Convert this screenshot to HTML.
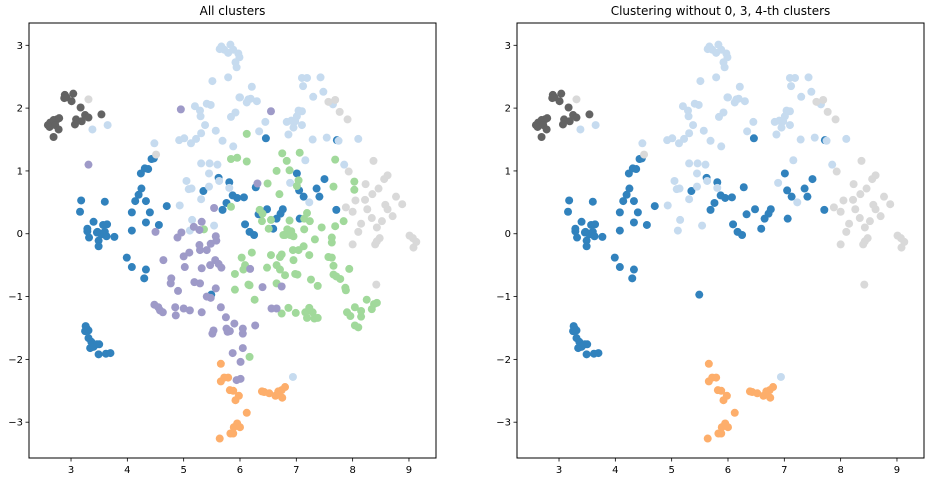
<!DOCTYPE html>
<html><head><meta charset="utf-8"><style>
html,body{margin:0;padding:0;background:#fff;}
svg{display:block;font-family:"DejaVu Sans","Liberation Sans",sans-serif;}
</style></head><body>
<svg id="chart" width="928" height="482" viewBox="0 0 928 482" xmlns="http://www.w3.org/2000/svg"></svg>
<script>
const darkBlue=[[3.18,0.53],[3.16,0.35],[3.60,0.51],[3.40,0.19],[3.29,0.08],[3.32,-0.06],[3.47,0.03],[3.57,0.14],[3.64,0.15],[3.60,0.03],[3.54,-0.01],[3.77,-0.05],[4.08,0.34],[4.08,0.05],[4.14,0.52],[4.20,0.62],[4.25,0.72],[4.24,0.96],[4.31,1.04],[4.37,1.03],[4.43,1.19],[4.47,1.20],[4.33,0.52],[4.40,0.34],[4.33,0.18],[4.56,0.14],[4.70,0.44],[5.35,0.68],[5.62,0.89],[5.81,0.82],[5.87,0.61],[5.95,0.57],[6.07,0.58],[5.76,0.49],[5.69,0.38],[6.09,0.15],[6.17,0.03],[6.46,1.52],[7.72,1.49],[7.01,0.96],[7.50,0.87],[6.28,0.74],[7.05,0.69],[7.36,0.72],[7.13,0.59],[7.41,0.59],[7.71,0.38],[6.48,0.39],[6.76,0.39],[6.72,0.32],[6.65,0.24],[6.33,0.31],[7.06,0.24],[6.59,0.08],[6.25,-0.02],[3.29,0.04],[3.46,0.02],[3.59,0.02],[3.63,-0.04],[3.49,-0.11],[3.49,-0.20],[3.99,-0.38],[4.08,-0.53],[4.33,-0.57],[4.30,-0.71],[5.49,-0.97],[3.26,-1.47],[3.31,-1.54],[3.25,-1.55],[3.28,-1.51],[3.31,-1.66],[3.36,-1.72],[3.46,-1.76],[3.34,-1.82],[3.40,-1.80],[3.50,-1.76],[3.49,-1.92],[3.62,-1.91],[3.70,-1.90]];
const lightBlue=[[3.38,1.66],[3.65,1.73],[4.48,1.44],[5.67,2.98],[5.64,2.94],[5.72,2.93],[5.83,3.01],[5.88,2.93],[5.79,2.88],[5.97,2.87],[5.99,2.81],[5.92,2.73],[5.94,2.65],[5.79,2.49],[5.51,2.43],[5.99,2.17],[6.15,2.14],[6.12,2.09],[5.41,2.07],[5.48,2.05],[5.20,2.03],[5.29,1.96],[5.30,1.87],[5.92,1.93],[5.84,1.86],[5.38,1.73],[5.57,1.64],[5.31,1.60],[5.69,1.48],[5.88,1.39],[4.92,1.49],[5.01,1.52],[5.13,1.44],[5.22,1.51],[5.31,1.12],[5.46,1.12],[5.60,1.10],[5.45,0.96],[5.05,0.84],[5.09,0.71],[5.14,0.72],[5.31,0.55],[5.45,0.75],[5.63,0.84],[4.93,0.45],[5.81,0.73],[5.15,0.22],[5.54,0.13],[5.11,0.05],[6.21,2.34],[7.10,2.48],[7.19,2.48],[7.43,2.49],[7.12,2.35],[7.48,2.26],[7.30,2.18],[6.00,2.17],[6.19,2.15],[6.30,2.11],[7.65,2.06],[7.04,1.96],[7.10,1.95],[7.01,1.87],[6.91,1.80],[6.83,1.78],[6.98,1.79],[6.45,1.78],[6.95,1.69],[7.10,1.73],[6.34,1.63],[6.86,1.58],[7.29,1.50],[7.54,1.53],[7.75,1.48],[8.10,1.51],[7.16,1.17],[7.85,1.10],[6.89,0.81],[7.23,0.50],[6.94,-2.28]];
const green=[[6.12,1.59],[5.84,1.19],[5.95,1.21],[6.12,1.15],[5.84,0.43],[5.36,0.07],[6.75,1.28],[7.06,1.29],[6.83,1.16],[7.69,1.18],[6.65,1.00],[6.88,1.01],[6.49,0.80],[7.04,0.85],[7.01,0.76],[7.66,0.75],[8.03,0.83],[8.03,0.70],[6.70,0.63],[6.35,0.38],[6.40,0.32],[7.19,0.33],[6.39,0.20],[6.55,0.22],[6.88,0.21],[7.14,0.24],[7.24,0.20],[7.69,0.12],[7.84,0.20],[7.45,0.10],[6.51,0.08],[6.84,0.07],[6.91,0.04],[7.14,0.07],[6.77,-0.02],[6.95,-0.04],[7.33,-0.09],[7.63,-0.06],[6.03,-0.38],[6.09,-0.50],[6.06,-0.57],[5.91,-0.64],[6.15,-0.81],[5.91,-0.89],[6.17,-1.96],[6.80,-0.02],[6.89,-0.02],[7.63,-0.14],[6.21,-0.30],[6.55,-0.34],[6.74,-0.33],[6.71,-0.37],[6.94,-0.26],[7.04,-0.26],[7.13,-0.20],[7.23,-0.34],[7.57,-0.37],[7.63,-0.38],[6.95,-0.42],[6.48,-0.54],[6.65,-0.50],[6.71,-0.57],[7.66,-0.51],[7.94,-0.56],[6.80,-0.66],[6.98,-0.64],[7.02,-0.65],[7.66,-0.65],[7.71,-0.68],[7.78,-0.72],[7.26,-0.73],[6.17,-0.82],[6.65,-0.79],[7.38,-0.83],[7.87,-0.86],[7.88,-0.90],[6.26,-1.05],[6.86,-1.18],[6.74,-1.27],[6.99,-1.26],[7.16,-1.25],[7.23,-1.18],[7.29,-1.25],[7.19,-1.34],[7.32,-1.35],[7.38,-1.34],[7.90,-1.25],[7.96,-1.31],[8.04,-1.17],[8.15,-1.23],[8.15,-1.32],[8.04,-1.46],[8.10,-1.49],[8.25,-1.05],[8.38,-1.12],[8.43,-1.10],[8.34,-1.20]];
const purple=[[3.31,1.10],[4.95,1.98],[6.55,1.95],[6.31,0.80],[5.54,0.41],[5.32,0.19],[5.18,0.11],[5.28,0.06],[4.96,0.02],[4.50,0.03],[4.89,-0.06],[5.57,-0.04],[5.58,-0.11],[5.28,-0.18],[5.29,-0.26],[5.48,-0.16],[5.41,-0.26],[5.10,-0.30],[5.00,-0.36],[4.64,-0.42],[5.02,-0.53],[5.32,-0.55],[5.47,-0.50],[5.56,-0.42],[5.62,-0.48],[5.67,-0.54],[4.78,-0.71],[4.77,-0.79],[5.19,-0.77],[5.29,-0.79],[5.57,-0.87],[4.90,-0.91],[5.41,-1.00],[5.48,-1.02],[4.48,-1.13],[4.55,-1.17],[4.58,-1.22],[4.63,-1.25],[4.85,-1.17],[5.00,-1.19],[5.11,-1.22],[4.86,-1.30],[5.32,-1.25],[5.66,-1.17],[5.75,-1.33],[5.53,-1.54],[5.51,-1.59],[5.76,-1.51],[5.78,-1.56],[5.90,-1.43],[6.05,-1.51],[6.05,-1.59],[6.05,-1.82],[5.87,-1.90],[6.01,-2.04],[5.94,-2.33],[6.01,-2.31],[6.18,-0.56],[6.40,-0.85],[6.74,-0.84],[6.56,-1.19],[6.65,-1.19],[6.27,-1.46],[5.82,-1.55]];
const orange=[[5.66,-2.07],[5.66,-2.35],[5.72,-2.29],[5.79,-2.29],[5.82,-2.49],[5.88,-2.50],[5.98,-2.58],[5.92,-2.65],[6.12,-2.85],[5.95,-3.02],[5.89,-3.08],[5.83,-3.18],[5.88,-3.18],[5.64,-3.26],[6.39,-2.51],[6.43,-2.52],[6.52,-2.54],[6.63,-2.58],[6.68,-2.51],[6.74,-2.49],[6.80,-2.44],[6.75,-2.61],[6.00,-3.08]];
const darkGray=[[2.59,1.73],[2.63,1.77],[2.69,1.81],[2.75,1.82],[2.79,1.84],[2.62,1.70],[2.72,1.73],[2.78,1.66],[2.69,1.54],[2.89,2.21],[2.92,2.17],[3.04,2.23],[3.01,2.11],[3.17,2.01],[3.09,1.82],[3.07,1.74],[3.19,1.79],[3.25,1.89],[3.31,1.85],[3.54,1.90],[2.88,2.16]];
const lightGray=[[3.31,2.14],[4.51,1.26],[7.57,2.10],[7.69,2.13],[7.77,1.94],[7.91,1.82],[8.37,1.16],[7.93,0.99],[8.62,0.93],[8.56,0.87],[8.23,0.79],[8.46,0.72],[8.35,0.63],[8.77,0.59],[8.05,0.53],[8.22,0.54],[8.88,0.47],[8.58,0.46],[8.62,0.39],[7.88,0.42],[8.00,0.35],[8.26,0.39],[8.71,0.28],[8.34,0.25],[8.52,0.20],[8.15,0.16],[8.43,0.10],[8.10,0.03],[9.01,-0.03],[9.07,-0.07],[8.00,-0.17],[8.40,-0.17],[8.43,-0.12],[8.48,-0.07],[9.13,-0.13],[9.08,-0.22],[8.42,-0.81]];
const xTicks=[3,4,5,6,7,8,9];
const yTicks=[3,2,1,0,-1,-2,-3];
const titles=["All clusters","Clustering without 0, 3, 4-th clusters"];

const NS="http://www.w3.org/2000/svg";
const svg=document.getElementById('chart');
function mk(tag,attrs,parent){const e=document.createElementNS(NS,tag);for(const k in attrs)e.setAttribute(k,attrs[k]);(parent||svg).appendChild(e);return e;}
const X0=2.254,X1=9.48,Y0=-3.57,Y1=3.355;
const series=[
 {name:'dark-blue',pts:darkBlue,c:'#3182bd',both:true},
 {name:'light-blue',pts:lightBlue,c:'#c6dbef',both:true},
 {name:'green',pts:green,c:'#a1d99b',both:false},
 {name:'purple',pts:purple,c:'#9e9ac8',both:false},
 {name:'orange',pts:orange,c:'#fdae6b',both:true},
 {name:'dark-gray',pts:darkGray,c:'#636363',both:true},
 {name:'light-gray',pts:lightGray,c:'#d9d9d9',both:true}];
[29,517].forEach((L,pi)=>{
  const R=L+407,T=23,B=458;
  const sx=v=>L+(v-X0)/(X1-X0)*(R-L);
  const sy=v=>B-(v-Y0)/(Y1-Y0)*(B-T);
  const g=mk('g',{});
  
  
  const t=mk('text',{x:(L+R)/2,y:15,'text-anchor':'middle','font-size':12,fill:'#000'},g);
  t.textContent=titles[pi];
  
  
  series.forEach(s=>{
    if(pi===1&&!s.both)return;
    const sg=mk('g',{fill:s.c},g);
    
    
    s.pts.forEach(p=>{
      const c=mk('circle',{cx:sx(p[0]),cy:sy(p[1]),r:4},sg);
      
      
    });
  });
  const fr=mk('rect',{x:L,y:T,width:R-L,height:B-T,fill:'none',stroke:'#000','stroke-width':1},g);
  
  
  xTicks.forEach(v=>{
    const x=sx(v);
    mk('line',{x1:x,x2:x,y1:B,y2:B+3.5,stroke:'#000','stroke-width':0.8},g);
    const tx=mk('text',{x:x,y:B+15,'text-anchor':'middle','font-size':10,fill:'#000'},g);
    tx.textContent=String(v);
    
    
  });
  yTicks.forEach(v=>{
    const y=sy(v);
    mk('line',{x1:L-3.5,x2:L,y1:y,y2:y,stroke:'#000','stroke-width':0.8},g);
    const ty=mk('text',{x:L-6,y:y+3.5,'text-anchor':'end','font-size':10,fill:'#000'},g);
    ty.textContent=v<0?'\u2212'+(-v):String(v);
    
    
  });
});
</script>
</body></html>
